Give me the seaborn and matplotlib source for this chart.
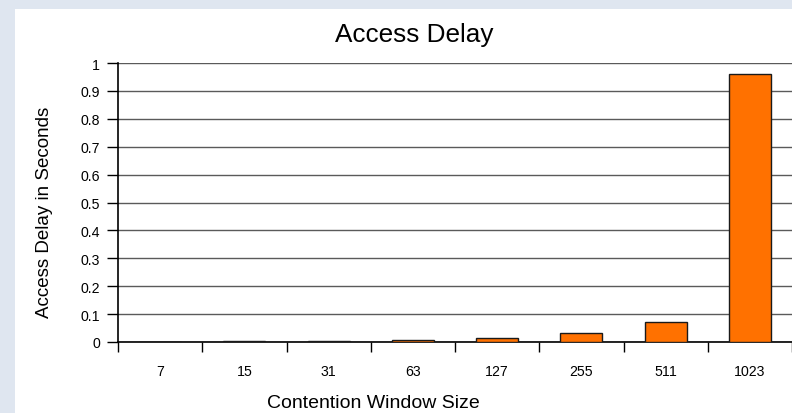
import matplotlib
matplotlib.use("Agg")
import matplotlib.pyplot as plt
from matplotlib.patches import Rectangle
import numpy as np
import pandas as pd
import seaborn as sns

# Data
window_sizes = ["7", "15", "31", "63", "127", "255", "511", "1023"]
access_delay = [0.001, 0.002, 0.004, 0.008, 0.0155, 0.031, 0.0705, 0.961]
y_ticks = [0, 0.1, 0.2, 0.3, 0.4, 0.5, 0.6, 0.7, 0.8, 0.9, 1]
y_tick_labels = ["0", "0.1", "0.2", "0.3", "0.4", "0.5", "0.6", "0.7", "0.8", "0.9", "1"]

title = "Access Delay"
x_label = "Contention Window Size"
y_label = "Access Delay in Seconds"

sns.set_theme(style="white")
plt.rcParams["font.family"] = ["Liberation Sans", "DejaVu Sans"]

W, H = 792, 414
fig = plt.figure(figsize=(W / 100, H / 100), dpi=100)
fig.patch.set_facecolor("#dfe6f0")
fig.add_artist(Rectangle((15 / W, 0), 1 - 15 / W, 1 - 10 / H,
                         transform=fig.transFigure, facecolor="white",
                         edgecolor="none", zorder=0))

ax = fig.add_axes([118 / W, 1 - 343 / H, (792 - 118) / W, (343 - 64) / H])
ax.set_facecolor("white")

df = pd.DataFrame({"size": window_sizes, "delay": access_delay})
sns.barplot(data=df, x="size", y="delay", order=window_sizes, color="#ff7100",
            saturation=1, width=0.5, edgecolor="#1a1a1a", linewidth=1, ax=ax,
            zorder=3)

ax.set_xlim(-0.5, len(window_sizes) - 0.5)
ax.set_ylim(0, 1)
ax.set_yticks(y_ticks)
ax.set_yticklabels(y_tick_labels)
ax.yaxis.grid(True, color="#5a5a5a", linewidth=1)
ax.set_axisbelow(True)

ax.set_xlabel("")
ax.set_ylabel("")
for s in ["top", "right"]:
    ax.spines[s].set_visible(False)
for s in ["left", "bottom"]:
    ax.spines[s].set_color("black")
    ax.spines[s].set_linewidth(1.2)

ax.tick_params(axis="y", direction="out", length=8, width=1, color="black",
               pad=5, labelsize=10.2, labelcolor="black", left=True)
ax.set_xticks(np.arange(len(window_sizes)))
ax.set_xticklabels(window_sizes)
ax.tick_params(axis="x", which="major", length=0, pad=16, labelsize=10.2,
               labelcolor="black", bottom=True)
ax.set_xticks(np.arange(len(window_sizes) + 1) - 0.5, minor=True)
ax.tick_params(axis="x", which="minor", direction="out", length=7.5, width=1,
               color="black", bottom=True)

fig.text(414 / W, 1 - 41.7 / H, title, ha="center", va="baseline",
         fontsize=18.8, color="black")
fig.text(373 / W, 1 - 408.3 / H, x_label, ha="center", va="baseline",
         fontsize=14, color="black")
fig.text(45 / W, 1 - 212 / H, y_label, ha="center", va="center",
         rotation=90, fontsize=13.5, color="black")

fig.savefig("out.png", dpi=100, facecolor=fig.get_facecolor())
